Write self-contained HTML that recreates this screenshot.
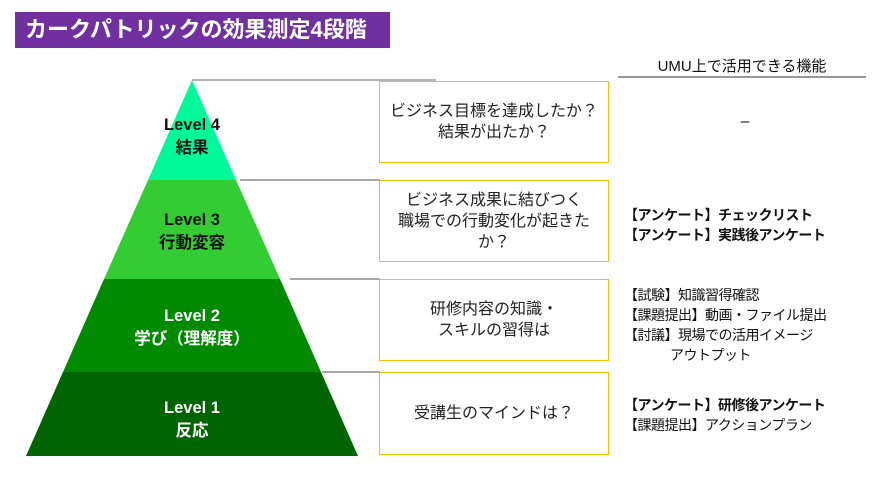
<!DOCTYPE html>
<html><head><meta charset="utf-8"><style>
body{margin:0;width:890px;height:478px;background:#fff;position:relative;overflow:hidden;font-family:"Liberation Sans","Noto Sans CJK JP",sans-serif}
.t{position:absolute;left:15px;top:12px;width:375px;height:36px;background:#7030a0;color:#fff;font-weight:bold;font-size:22px;line-height:36px;padding-left:10px;box-sizing:border-box}
.box{position:absolute;left:379px;width:230px;border:1px solid #f5c000;box-sizing:border-box;display:flex;align-items:center;justify-content:center;text-align:center;font-size:16px;line-height:21px;color:#222}
.r{position:absolute;left:624px;font-size:14px;line-height:20px;color:#111;letter-spacing:-0.5px}
.b{font-weight:bold}
.lv{position:absolute;text-align:center;font-weight:bold;font-size:16.5px;line-height:23px;width:160px}
</style></head><body>
<div class="t">カークパトリックの効果測定4段階</div>
<svg width="890" height="478" style="position:absolute;left:0;top:0">
<polygon points="192,80 148,180 236,180" fill="#00fa9a"/>
<polygon points="148,180 236,180 280,279 104,279" fill="#33cc33"/>
<polygon points="104,279 280,279 321,372 63,372" fill="#008a00"/>
<polygon points="63,372 321,372 358,456 26,456" fill="#006400"/>
<line x1="192" y1="80" x2="436" y2="80" stroke="#999" stroke-width="1.5"/>
<line x1="240" y1="180" x2="380" y2="180" stroke="#888" stroke-width="1.5"/>
<line x1="290" y1="279" x2="380" y2="279" stroke="#888" stroke-width="1.5"/>
<line x1="322" y1="372" x2="380" y2="372" stroke="#888" stroke-width="1.5"/>
<line x1="618" y1="77" x2="866" y2="77" stroke="#333" stroke-width="1"/>
</svg>
<div class="lv" style="left:112px;top:114px;color:#111">Level 4<br>結果</div>
<div class="lv" style="left:112px;top:209px;color:#111">Level 3<br>行動変容</div>
<div class="lv" style="left:112px;top:305px;color:#fff">Level 2<br>学び（理解度）</div>
<div class="lv" style="left:112px;top:397px;color:#fff">Level 1<br>反応</div>
<div class="box" style="top:81px;height:82px">ビジネス目標を達成したか？<br>結果が出たか？</div>
<div class="box" style="top:180px;height:82px">ビジネス成果に結びつく<br>職場での行動変化が起きた<br>か？</div>
<div class="box" style="top:279px;height:82px">研修内容の知識・<br>スキルの習得は</div>
<div class="box" style="top:372px;height:83px">受講生のマインドは？</div>
<div style="position:absolute;left:618px;width:248px;top:55px;text-align:center;font-size:15px;color:#111">UMU上で活用できる機能</div>
<div style="position:absolute;left:730px;width:30px;top:113px;text-align:center;font-size:15px">–</div>
<div class="r b" style="top:205px">【アンケート】チェックリスト<br>【アンケート】実践後アンケート</div>
<div class="r" style="top:285px">【試験】知識習得確認<br>【課題提出】動画・ファイル提出<br>【討議】現場での活用イメージ<br><span style="padding-left:46px">アウトプット</span></div>
<div class="r" style="top:395px"><span class="b">【アンケート】研修後アンケート</span><br>【課題提出】アクションプラン</div>
</body></html>
